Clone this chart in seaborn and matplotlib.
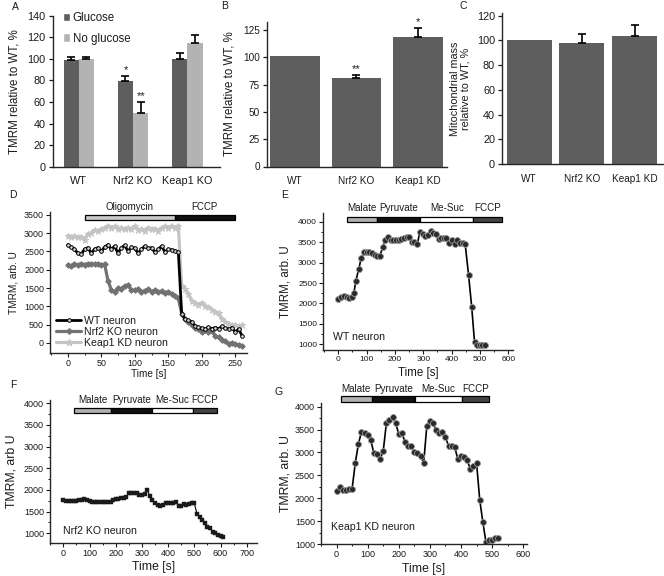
import matplotlib
matplotlib.use('Agg')
import matplotlib.pyplot as plt
from matplotlib.ticker import MultipleLocator, AutoMinorLocator
from matplotlib.lines import Line2D
from matplotlib.patches import Patch
import numpy as np
import pandas as pd
import seaborn as sns

# ---------------- data ----------------
a_groups = ['WT', 'Nrf2 KO', 'Keap1 KO']
a_conditions = ['Glucose', 'No glucose']
a_glucose = [99, 79, 99.5]
a_glucose_err = [3, 5, 6]
a_noglucose = [100, 50, 115]
a_noglucose_err = [2, 10, 7]
a_stars_glucose = ['', '*', '']
a_stars_noglucose = ['', '**', '']

b_groups = ['WT', 'Nrf2 KO', 'Keap1 KD']
b_values = [101, 81, 119]
b_err = [0, 3, 8]
b_stars = ['', '**', '*']

c_groups = ['WT', 'Nrf2 KO', 'Keap1 KD']
c_values = [100, 98, 103.5]
c_err = [0, 7, 9]

d_time = list(range(0, 265, 5))
d_wt = [2680, 2620, 2560, 2450, 2420, 2560, 2600, 2450, 2560, 2600, 2500, 2620, 2680, 2560, 2640, 2450, 2600,
        2660, 2500, 2620, 2580, 2450, 2560, 2640, 2580, 2600, 2470, 2560, 2640, 2480, 2560, 2540, 2520, 2480,
        800, 650, 620, 580, 470, 430, 400, 380, 430, 390, 420, 390, 450, 400, 380, 420, 300, 380, 200]
d_nrf2 = [2130, 2100, 2150, 2130, 2160, 2140, 2160, 2150, 2160, 2150, 2140, 2150,
          1700, 1450, 1400, 1500, 1480, 1560, 1580, 1450, 1440, 1480, 1400, 1430, 1470, 1400, 1440, 1380,
          1420, 1360, 1400, 1330, 1280, 1220,
          800, 650, 560, 500, 420, 380, 300, 350, 300, 320, 200, 150, 80, 60, -20, 0, -40, -60, -90]
d_keap1 = [2920, 2900, 2920, 2880, 2900, 2800, 2980, 3000, 3080, 3050, 3100, 3150, 3200, 3150, 3180, 3100, 3150,
           3120, 3150, 3100, 3180, 3080, 3100, 3060, 3150, 3100, 3120, 3050, 3150, 3180, 3130, 3200, 3150, 3200,
           1550, 1480, 1350, 1150, 1080, 1050, 1100, 1000, 980, 900, 850, 820, 650, 580, 520, 500, 480, 470, 480]
d_series = ['WT neuron', 'Nrf2 KO neuron', 'Keap1 KD neuron']
d_treat_labels = ['Oligomycin', 'FCCP']
d_treat_start = [25, 160]
d_treat_end = [160, 249]

e_time = [0, 9, 20, 29, 39, 48, 55, 62, 72, 81, 91, 100, 110, 119, 129, 138, 147, 157, 166, 176,
          185, 194, 204, 213, 222, 232, 241, 251, 260, 269, 279, 288, 298, 307, 317, 326, 335, 345, 354, 364,
          373, 382, 392, 401, 411, 420, 429, 439, 448, 460, 471, 481, 490, 500, 509, 519]
e_wt = [2100, 2165, 2190, 2165, 2135, 2150, 2250, 2555, 2835, 3110, 3260, 3260, 3250, 3225, 3180, 3170, 3170,
        3375, 3555, 3620, 3555, 3555, 3555, 3555, 3570, 3595, 3620, 3620, 3510, 3510, 3445, 3755, 3700, 3660,
        3685, 3780, 3715, 3690, 3570, 3610, 3610, 3610, 3470, 3555, 3455, 3555, 3490, 3470, 3455, 2700, 1920,
        1065, 985, 985, 985, 985]
e_treat_labels = ['Malate', 'Pyruvate', 'Me-Suc', 'FCCP']
e_treat_start = [32, 138, 290, 476]
e_treat_end = [138, 290, 476, 579]

f_time = list(range(0, 620, 10))
f_nrf2 = [1760, 1740, 1745, 1750, 1750, 1755, 1760, 1770, 1790, 1780,
          1750, 1720, 1715, 1720, 1720, 1720, 1720, 1720, 1730, 1780,
          1800, 1800, 1820, 1820, 1830, 1940, 1935, 1935, 1930, 1890,
          1890, 1900, 2000, 1870, 1770, 1700, 1650, 1640, 1650, 1690,
          1700, 1700, 1700, 1720, 1630, 1620, 1680, 1650, 1680, 1700,
          1690, 1450, 1380, 1300, 1230, 1150, 1120, 1030, 1000, 970,
          930, 910]
f_treat_labels = ['Malate', 'Pyruvate', 'Me-Suc', 'FCCP']
f_treat_start = [42, 183, 339, 495]
f_treat_end = [183, 339, 495, 586]

g_time = list(range(0, 530, 10))
g_keap1 = [2160, 2250, 2175, 2175, 2195, 2210, 2760, 3180, 3450, 3415,
           3380, 3270, 2980, 2965, 2855, 3030, 3635, 3710, 3766, 3640,
           3400, 3420, 3234, 3140, 3145, 3015, 2980, 2920, 2774, 3577,
           3693, 3635, 3489, 3416, 3453, 3330, 3146, 3140, 3110, 2848,
           2920, 2905, 2833, 2630, 2700, 2760, 1972, 1482, 1044, 1095,
           1080, 1140, 1130]
g_treat_labels = ['Malate', 'Pyruvate', 'Me-Suc', 'FCCP']
g_treat_start = [13, 113, 252, 403]
g_treat_end = [113, 252, 403, 490]

# ---------------- style ----------------
sns.set_style('ticks')
plt.rcParams['font.family'] = ['Liberation Sans', 'DejaVu Sans']
plt.rcParams['axes.linewidth'] = 1.0
plt.rcParams['text.color'] = '#1a1a1a'
plt.rcParams['axes.labelcolor'] = '#1a1a1a'
plt.rcParams['xtick.color'] = '#1a1a1a'
plt.rcParams['ytick.color'] = '#1a1a1a'

DARK = '#5e5e5e'
LIGHT = '#b3b3b3'
W, H = 664, 576
fig = plt.figure(figsize=(W / 100, H / 100), dpi=100)


def rect(l, t, r, b):
    return [l / W, 1 - b / H, (r - l) / W, (b - t) / H]


def ylab_pos(ax, l, r, xpix):
    ax.yaxis.set_label_coords((xpix - l) / (r - l), 0.5)


def xlab_pos(ax, t, b, ypix):
    ax.xaxis.set_label_coords(0.5, -(ypix - b) / (b - t))


def add_err(ax, xs, ys, errs, stars=None, fs=8):
    for i, (x, y, e) in enumerate(zip(xs, ys, errs)):
        if e > 0:
            ax.errorbar([x], [y], yerr=[[0], [e]], fmt='none', ecolor='black',
                        elinewidth=1.2, capsize=2.6, capthick=1.2)
        if stars is not None and stars[i]:
            ax.text(x, y + e + 0.5, stars[i], ha='center', va='bottom', fontsize=fs)


def bar_centers(container):
    return [b.get_x() + b.get_width() / 2 for b in container]


# ---------------- panel A ----------------
L, T, R, B = 52.7, 15.7, 220, 166.7
axA = fig.add_axes(rect(L, T, R, B))
dfA = pd.DataFrame({
    'group': a_groups * 2,
    'condition': [a_conditions[0]] * 3 + [a_conditions[1]] * 3,
    'value': a_glucose + a_noglucose,
})
sns.barplot(data=dfA, x='group', y='value', hue='condition', order=a_groups,
            hue_order=a_conditions, palette=[DARK, LIGHT], width=0.56,
            errorbar=None, saturation=1, legend=False, ax=axA, linewidth=0)
add_err(axA, bar_centers(axA.containers[0]), a_glucose, a_glucose_err, a_stars_glucose)
add_err(axA, bar_centers(axA.containers[1]), a_noglucose, a_noglucose_err, a_stars_noglucose)
axA.set_xlim(-0.48, 2.6)
axA.set_ylim(0, 140)
axA.yaxis.set_major_locator(MultipleLocator(20))
axA.set_xlabel('')
axA.set_ylabel('TMRM relative to WT, %', fontsize=8.3)
ylab_pos(axA, L, R, 21)
axA.tick_params(axis='x', length=0, pad=7, labelsize=7.8)
axA.tick_params(axis='y', length=3, width=0.9, pad=2, labelsize=7.8)
sns.despine(ax=axA)
axA.legend([Patch(facecolor=DARK), Patch(facecolor=LIGHT)], a_conditions,
           loc='upper left', bbox_to_anchor=((63 - L) / (R - L), (B - 12) / (B - T)),
           frameon=False, fontsize=8.3, handlelength=0.65, handleheight=0.75,
           handletextpad=0.2, labelspacing=0.75, borderpad=0, borderaxespad=0)

# ---------------- panel B ----------------
L, T, R, B = 266.7, 21.7, 446.7, 166.5
axB = fig.add_axes(rect(L, T, R, B))
sns.barplot(x=b_groups, y=b_values, color=DARK, width=0.81, errorbar=None,
            saturation=1, ax=axB, linewidth=0)
add_err(axB, bar_centers(axB.containers[0]), b_values, b_err, b_stars)
axB.set_xlim(-0.46, 2.47)
axB.set_ylim(0, 132.6)
axB.yaxis.set_major_locator(MultipleLocator(25))
axB.set_ylabel('TMRM relative to WT, %', fontsize=8.3)
ylab_pos(axB, L, R, 236)
axB.tick_params(axis='x', length=0, pad=7, labelsize=7.2)
axB.tick_params(axis='y', length=3, width=0.9, pad=2, labelsize=7.2)
sns.despine(ax=axB)

# ---------------- panel C ----------------
L, T, R, B = 502, 13.3, 664, 164
axC = fig.add_axes(rect(L, T, R, B))
sns.barplot(x=c_groups, y=c_values, color=DARK, width=0.85, errorbar=None,
            saturation=1, ax=axC, linewidth=0)
add_err(axC, bar_centers(axC.containers[0]), c_values, c_err)
axC.set_xlim(-0.51, 2.55)
axC.set_ylim(0, 122)
axC.yaxis.set_major_locator(MultipleLocator(20))
axC.set_ylabel('Mitochondrial mass\nrelative to WT, %', fontsize=7.8, linespacing=1.0)
ylab_pos(axC, L, R, 470)
axC.tick_params(axis='x', length=0, pad=7, labelsize=7.2)
axC.tick_params(axis='y', length=3, width=0.9, pad=2, labelsize=7.8)
sns.despine(ax=axC)


# ---------------- treatment bars ----------------
def treat_bars(ax, starts, ends, labels, colors, ybar, hbar, ylab, fs):
    for s, e, lab, c in zip(starts, ends, labels, colors):
        ax.barh([ybar], [e - s], left=[s], height=hbar, color=c, edgecolor='black',
                linewidth=0.9, clip_on=False, zorder=5)
        ax.text((s + e) / 2, ylab, lab, ha='center', va='center', fontsize=fs, clip_on=False)


def trace_axes(ax, xmaj, ymaj, fs_tick):
    ax.xaxis.set_major_locator(MultipleLocator(xmaj))
    ax.yaxis.set_major_locator(MultipleLocator(ymaj))
    ax.xaxis.set_minor_locator(AutoMinorLocator(2))
    ax.yaxis.set_minor_locator(AutoMinorLocator(2))
    ax.tick_params(which='major', length=2.8, width=0.8, pad=1.5, labelsize=fs_tick)
    ax.tick_params(which='minor', length=1.6, width=0.7)
    sns.despine(ax=ax)


# ---------------- panel D ----------------
L, T, R, B = 50, 211.7, 246.7, 353
axD = fig.add_axes(rect(L, T, R, B))
WT_STYLE = dict(color='black', lw=2.0, marker='o', markersize=2.6, markeredgecolor='black',
                markerfacecolor='#d8d8d8', markeredgewidth=0.7)
NRF_STYLE = dict(color='#727272', lw=2.3, marker='D', markersize=2.8,
                 markeredgecolor='#727272', markerfacecolor='#727272')
KEAP_STYLE = dict(color='#c4c4c4', lw=2.3, marker='*', markersize=4.5,
                  markeredgecolor='#c4c4c4', markerfacecolor='#c4c4c4')
sns.lineplot(x=d_time, y=d_keap1, ax=axD, **KEAP_STYLE)
sns.lineplot(x=d_time, y=d_nrf2, ax=axD, **NRF_STYLE)
sns.lineplot(x=d_time, y=d_wt, ax=axD, **WT_STYLE)
axD.set_xlim(-26.5, 267)
axD.set_ylim(-273, 3582)
trace_axes(axD, 50, 500, 6.4)
axD.yaxis.set_minor_locator(plt.NullLocator())
axD.set_xlabel('Time [s]', fontsize=7.2, labelpad=0)
axD.set_ylabel('TMRM, arb. U', fontsize=7.2)
ylab_pos(axD, L, R, 18)
xlab_pos(axD, T, B, 369)
treat_bars(axD, d_treat_start, d_treat_end, d_treat_labels, ['#c8c8c8', '#111111'],
           3413, 140, 3700, 7.0)
handles = [Line2D([], [], **WT_STYLE), Line2D([], [], **NRF_STYLE), Line2D([], [], **KEAP_STYLE)]
axD.legend(handles, d_series, loc='lower left', bbox_to_anchor=(0.03, 0.035), frameon=False,
           fontsize=7.6, handlelength=2.4, handletextpad=0.3, labelspacing=0.12,
           borderpad=0, borderaxespad=0)

# ---------------- panel E ----------------
MCOL = ['#b0b0b0', '#111111', '#ffffff', '#444444']
L, T, R, B = 323, 212.7, 513.3, 350
axE = fig.add_axes(rect(L, T, R, B))
sns.lineplot(x=e_time, y=e_wt, ax=axE, color='black', lw=1.2, marker='o', markersize=4.3,
             markerfacecolor='#2a2a2a', markeredgecolor='#9a9a9a', markeredgewidth=0.6)
axE.set_xlim(-54, 618)
axE.set_ylim(861, 4220)
trace_axes(axE, 100, 500, 6.0)
axE.set_xlabel('Time [s]', fontsize=8.3)
axE.set_ylabel('TMRM, arb. U', fontsize=8.3)
ylab_pos(axE, L, R, 291)
xlab_pos(axE, T, B, 367)
treat_bars(axE, e_treat_start, e_treat_end, e_treat_labels, MCOL, 4055, 118, 4330, 7.1)
axE.text(-18, 1190, 'WT neuron', ha='left', va='center', fontsize=7.6)

# ---------------- panel F ----------------
L, T, R, B = 50, 400, 256.7, 543.3
axF = fig.add_axes(rect(L, T, R, B))
sns.lineplot(x=f_time, y=f_nrf2, ax=axF, color='black', lw=0.8, marker='s', markersize=2.2,
             markerfacecolor='#1a1a1a', markeredgecolor='#1a1a1a', markeredgewidth=0.3)
axF.set_xlim(-51, 738)
axF.set_ylim(769, 4077)
trace_axes(axF, 100, 500, 6.5)
axF.set_xlabel('Time [s]', fontsize=8.8)
axF.set_ylabel('TMRM, arb U', fontsize=8.8)
ylab_pos(axF, L, R, 17)
xlab_pos(axF, T, B, 561)
treat_bars(axF, f_treat_start, f_treat_end, f_treat_labels, MCOL, 3828, 115, 4070, 7.1)
axF.text(0, 1060, 'Nrf2 KO neuron', ha='left', va='center', fontsize=7.6)

# ---------------- panel G ----------------
L, T, R, B = 321, 403.3, 527, 544
axG = fig.add_axes(rect(L, T, R, B))
sns.lineplot(x=g_time, y=g_keap1, ax=axG, color='black', lw=1.2, marker='o', markersize=4.3,
             markerfacecolor='#2a2a2a', markeredgecolor='#9a9a9a', markeredgewidth=0.6)
axG.set_xlim(-50, 612)
axG.set_ylim(1000, 4075)
trace_axes(axG, 100, 500, 6.5)
axG.set_xlabel('Time [s]', fontsize=8.8)
axG.set_ylabel('TMRM, arb. U', fontsize=8.8)
ylab_pos(axG, L, R, 291)
xlab_pos(axG, T, B, 563)
treat_bars(axG, g_treat_start, g_treat_end, g_treat_labels, MCOL, 4170, 125, 4385, 7.1)
axG.text(-19, 1365, 'Keap1 KD neuron', ha='left', va='center', fontsize=7.6)

# ---------------- panel letters ----------------
for letter, (px, py) in zip('ABCDEFG', [(15, 7), (225, 6), (463, 6), (13, 195), (285, 195),
                                        (13, 385), (279, 392)]):
    fig.text(px / W, 1 - py / H, letter, ha='center', va='center', fontsize=7.5)

fig.savefig('out.png', dpi=100)
